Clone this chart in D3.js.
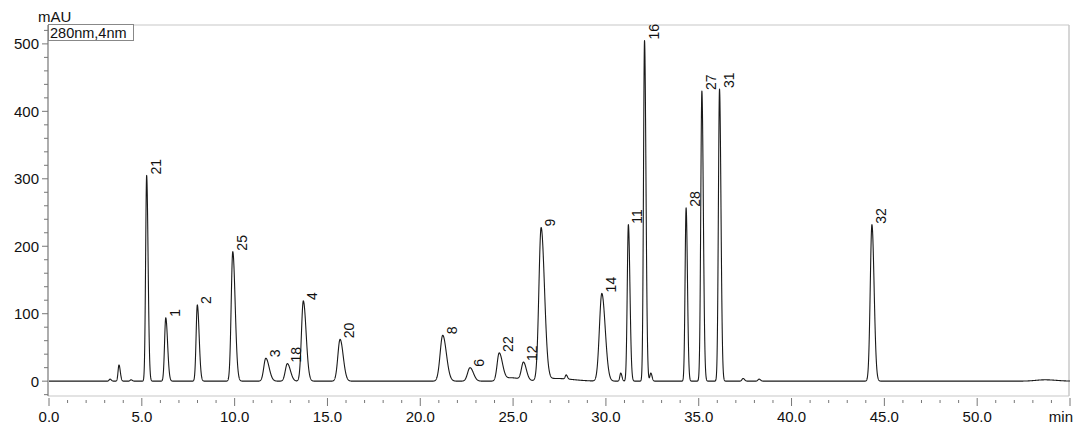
<!DOCTYPE html>
<html>
<head>
<meta charset="utf-8">
<script src="https://cdn.jsdelivr.net/npm/d3@7"></script>
<style>
  html, body { margin: 0; padding: 0; background: #fff; }
  svg { display: block; }
  text { font-family: "Liberation Sans", Arial, sans-serif; fill: #111; }
</style>
</head>
<body>
<svg id="chart" width="1080" height="442"></svg>
<script>
// ---- Data (peak table) ----
const peakTimes   = [3.29, 3.77, 4.42, 5.26, 6.29, 7.99, 9.90, 11.68, 12.84, 13.70, 15.68, 21.21, 22.68, 24.25, 24.90, 25.56, 26.51, 27.30, 27.86, 29.78, 30.80, 31.21, 32.08, 32.42, 34.32, 35.17, 36.12, 37.39, 38.25, 44.33, 53.66];
const peakHeights = [3,    24,   2,    305,  94,   113,  192,  34,    26,    119,   62,    68,    20,    41,    5,     26,    226,   4,     6,     130,   12,    232,   505,   12,    257,   430,   433,   4,     3,     232,   2];
const peakSigmas  = [0.05, 0.05, 0.05, 0.055,0.065,0.065,0.085,0.11,  0.11,  0.10,  0.12,  0.14,  0.13,  0.11,  0.35,  0.11,  0.12,  0.6,   0.05,  0.13,  0.05,  0.06,  0.055, 0.05,  0.055, 0.06,  0.06,  0.06,  0.06,  0.09,  0.5];
const peakTailing = [1.3,  1.4,  1.3,  1.4,  1.5,  1.5,  1.5,  1.6,   1.5,   1.5,   1.4,   1.4,   1.4,   1.6,   1.5,   1.4,   1.5,   1.5,   1.3,   1.4,   1.3,   1.4,   1.4,   1.3,   1.3,   1.3,   1.3,   1.3,   1.3,   1.3,   1.2];
const peakLabels  = ["", "", "", "21", "1", "2", "25", "3", "18", "4", "20", "8", "6", "22", "", "12", "9", "", "", "14", "", "11", "16", "", "28", "27", "31", "", "", "32", ""];

const xTickValues = [0, 5, 10, 15, 20, 25, 30, 35, 40, 45, 50];
const xTickLabels = ["0.0", "5.0", "10.0", "15.0", "20.0", "25.0", "30.0", "35.0", "40.0", "45.0", "50.0"];
const yTickValues = [0, 100, 200, 300, 400, 500];
const yTickLabels = ["0", "100", "200", "300", "400", "500"];
const xUnit = "min";
const yUnit = "mAU";
const detectorNote = "280nm,4nm";

// ---- Layout ----
const svg = d3.select("#chart");
const pLeft = 48, pRight = 1069, pTop = 25, pBottom = 396;
const x = d3.scaleLinear().domain([0, 55]).range([49, 1070]);
const y = d3.scaleLinear().domain([-22, 528]).range([pBottom, pTop]);

// signal built from the peak table
function signal(t) {
  let s = 0;
  for (let i = 0; i < peakTimes.length; i++) {
    const d = t - peakTimes[i];
    const sg = d < 0 ? peakSigmas[i] : peakSigmas[i] * peakTailing[i];
    const z = d / sg;
    if (Math.abs(z) < 8) s += peakHeights[i] * Math.exp(-0.5 * z * z);
  }
  return s;
}
const samples = d3.range(0, 55.0001, 0.005).map(t => [t, signal(t)]);

// ---- Frame ----
svg.append("line").attr("x1", pLeft).attr("x2", pRight).attr("y1", pTop).attr("y2", pTop)
  .attr("stroke", "#c8c8c8").attr("stroke-width", 1.2);
svg.append("line").attr("x1", pRight).attr("x2", pRight).attr("y1", pTop).attr("y2", pBottom)
  .attr("stroke", "#c8c8c8").attr("stroke-width", 1.5);
svg.append("line").attr("x1", pLeft).attr("x2", pRight).attr("y1", pBottom).attr("y2", pBottom)
  .attr("stroke", "#c8c8c8").attr("stroke-width", 1.2);

// ---- Y axis ----
const yAxisG = svg.append("g").attr("transform", `translate(${pLeft},0)`);
yAxisG.append("line").attr("x1", 0).attr("x2", 0).attr("y1", pTop).attr("y2", pBottom)
  .attr("stroke", "#777").attr("stroke-width", 1.2);
const yMinor = d3.range(-20, 521, 20).filter(v => !yTickValues.includes(v));
yAxisG.selectAll("line.minor").data(yMinor).join("line").attr("class", "minor")
  .attr("x1", -4).attr("x2", 0).attr("y1", d => y(d)).attr("y2", d => y(d))
  .attr("stroke", "#777").attr("stroke-width", 1);
yAxisG.selectAll("line.major").data(yTickValues).join("line").attr("class", "major")
  .attr("x1", -6).attr("x2", 0).attr("y1", d => y(d)).attr("y2", d => y(d))
  .attr("stroke", "#777").attr("stroke-width", 1);
yAxisG.selectAll("text.tick").data(yTickValues).join("text").attr("class", "tick")
  .attr("x", -9).attr("y", d => y(d)).attr("dy", "0.36em")
  .attr("text-anchor", "end").attr("font-size", 15)
  .text((d, i) => yTickLabels[i]);
svg.append("text").attr("x", 38).attr("y", 22).attr("font-size", 15).text(yUnit);

// ---- X axis ----
const axisY = 398;
const xAxisG = svg.append("g");
const xMinor = d3.range(0, 56, 1).filter(v => v % 5 !== 0);
xAxisG.selectAll("line.minor").data(xMinor).join("line").attr("class", "minor")
  .attr("x1", d => x(d)).attr("x2", d => x(d)).attr("y1", axisY + 2).attr("y2", axisY + 5)
  .attr("stroke", "#777").attr("stroke-width", 1);
xAxisG.selectAll("line.major").data(xTickValues.concat([55])).join("line").attr("class", "major")
  .attr("x1", d => x(d)).attr("x2", d => x(d)).attr("y1", axisY).attr("y2", axisY + 8)
  .attr("stroke", "#777").attr("stroke-width", 1);
xAxisG.selectAll("text.tick").data(xTickValues).join("text").attr("class", "tick")
  .attr("x", d => x(d)).attr("y", 422).attr("text-anchor", "middle").attr("font-size", 15)
  .text((d, i) => xTickLabels[i]);
svg.append("text").attr("x", 1073).attr("y", 422).attr("text-anchor", "end")
  .attr("font-size", 15).text(xUnit);

// ---- Trace ----
const line = d3.line().x(d => x(d[0])).y(d => y(d[1]));
svg.append("path").datum(samples).attr("d", line)
  .attr("fill", "none").attr("stroke", "#1a1a1a").attr("stroke-width", 1.1)
  .attr("stroke-linejoin", "round");

// ---- Peak labels ----
peakTimes.forEach((t, i) => {
  if (!peakLabels[i]) return;
  const px = x(t), py = y(signal(t));
  svg.append("text")
    .attr("transform", `translate(${px + 14},${py - 1}) rotate(-90)`)
    .attr("font-size", 14)
    .attr("text-anchor", "start")
    .text(peakLabels[i]);
});

// ---- Detector note box ----
svg.append("rect").attr("x", 48.5).attr("y", 24.5).attr("width", 85).attr("height", 16)
  .attr("fill", "#fff").attr("stroke", "#888").attr("stroke-width", 1);
svg.append("text").attr("x", 50).attr("y", 38).attr("font-size", 14.5).text(detectorNote);
</script>
</body>
</html>
